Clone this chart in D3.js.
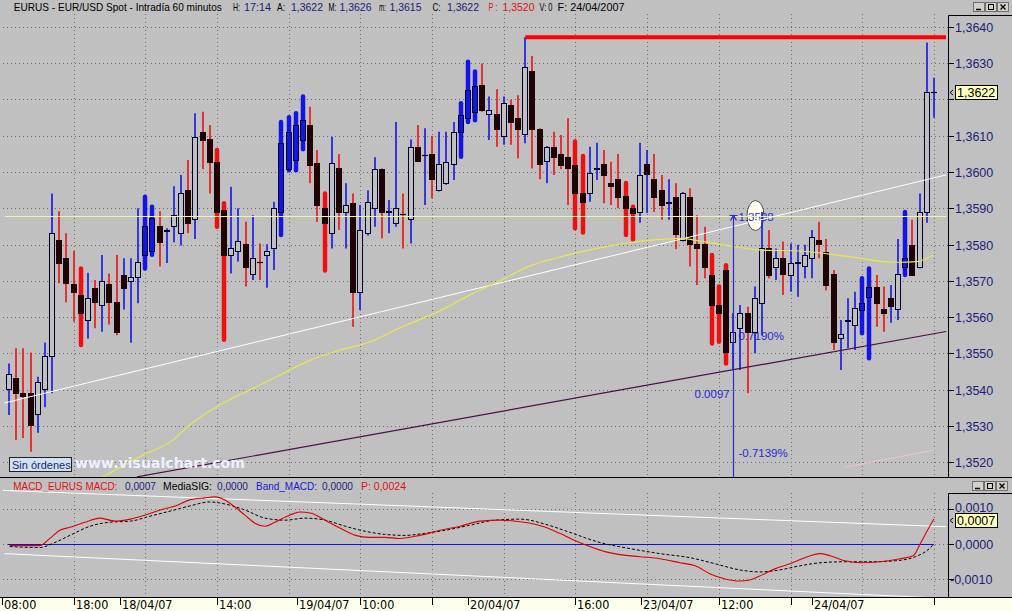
<!DOCTYPE html>
<html><head><meta charset="utf-8">
<script src="https://cdn.jsdelivr.net/npm/d3@7"></script>
<style>html,body{margin:0;padding:0;background:#c0c0c0;overflow:hidden}svg{display:block}</style>
</head><body><svg id="c" width="1012" height="611"></svg>
<script>
// ---------------- DATA ----------------
const open=[1.35401,1.35432,1.35391,1.35391,1.35332,1.35401,1.35492,1.35812,1.35762,1.35691,
1.35661,1.35592,1.35681,1.35633,1.35691,1.35641,1.35716,1.35700,1.35710,1.35771,
1.35783,1.35851,1.35838,1.35851,1.35831,1.35950,1.35870,1.36111,1.36090,1.36028,
1.35895,1.35771,1.35783,1.35801,1.35720,1.35752,1.35771,1.35789,1.35890,1.36007,
1.36033,1.36088,1.36130,1.36024,1.35902,1.35831,1.36010,1.35890,1.35914,1.35670,
1.35831,1.35900,1.36008,1.35890,1.35860,1.35883,1.35870,1.36070,1.36046,1.36050,
1.35950,1.35969,1.36021,1.36111,1.36149,1.36165,1.36240,1.36159,1.36159,1.36099,
1.36185,1.36148,1.36105,1.36279,1.36119,1.36030,1.36070,1.36050,1.36042,1.36019,
1.35941,1.35941,1.36008,1.36022,1.35969,1.35980,1.35934,1.35901,1.35890,1.36022,
1.35980,1.35950,1.35916,1.35930,1.35812,1.35930,1.35801,1.35801,1.35716,1.35633,
1.35730,1.35532,1.35570,1.35610,1.35559,1.35640,1.35789,1.35739,1.35762,1.35716,
1.35749,1.35741,1.35762,1.35812,1.35780,1.35720,1.35541,1.35590,1.35579,1.35619,
1.35656,1.35684,1.35621,1.35652,1.35621,1.35739,1.35799,1.35739,1.35890,1.36220];
const high=[1.35472,1.35514,1.35514,1.35502,1.35435,1.35530,1.35941,1.35892,1.35831,1.35782,
1.35734,1.35722,1.35702,1.35771,1.35720,1.35771,1.35762,1.35762,1.35900,1.35932,
1.35904,1.35892,1.35845,1.35961,1.35992,1.36033,1.36162,1.36166,1.36130,1.36061,
1.35914,1.35959,1.35900,1.35863,1.35881,1.35803,1.35801,1.35918,1.36138,1.36151,
1.36162,1.36208,1.36180,1.36061,1.35941,1.36097,1.36050,1.35969,1.35941,1.35909,
1.35950,1.36041,1.36010,1.35923,1.36138,1.35941,1.36090,1.36130,1.36121,1.36099,
1.36111,1.36111,1.36138,1.36190,1.36304,1.36277,1.36299,1.36208,1.36228,1.36208,
1.36199,1.36212,1.36372,1.36320,1.36121,1.36072,1.36111,1.36102,1.36148,1.36084,
1.36044,1.36070,1.36081,1.36061,1.36028,1.36050,1.35970,1.35904,1.36081,1.36061,
1.36050,1.35992,1.35980,1.35969,1.35945,1.35955,1.35881,1.35849,1.35771,1.35684,
1.35743,1.35611,1.35633,1.35628,1.35684,1.35890,1.35840,1.35789,1.35808,1.35803,
1.35799,1.35799,1.35840,1.35863,1.35815,1.35730,1.35592,1.35652,1.35670,1.35707,
1.35734,1.35716,1.35684,1.35688,1.35815,1.35890,1.35868,1.35941,1.36357,1.36260];
const low=[1.35330,1.35261,1.35266,1.35228,1.35281,1.35351,1.35390,1.35693,1.35641,1.35587,
1.35523,1.35541,1.35569,1.35559,1.35579,1.35550,1.35621,1.35529,1.35638,1.35734,
1.35772,1.35739,1.35749,1.35806,1.35797,1.35831,1.35815,1.36008,1.35941,1.35849,
1.35537,1.35720,1.35753,1.35684,1.35702,1.35702,1.35681,1.35730,1.35826,1.36005,
1.36005,1.36063,1.35969,1.35863,1.35728,1.35789,1.35840,1.35789,1.35573,1.35619,
1.35825,1.35849,1.35817,1.35831,1.35849,1.35789,1.35803,1.36028,1.35909,1.35927,
1.35946,1.35965,1.35978,1.36042,1.36138,1.36143,1.36166,1.36088,1.36070,1.36075,
1.36075,1.36038,1.36079,1.36010,1.35980,1.35969,1.35992,1.36008,1.35909,1.35845,
1.35833,1.35918,1.35978,1.35914,1.35909,1.35900,1.35826,1.35814,1.35860,1.35887,
1.35890,1.35868,1.35868,1.35787,1.35808,1.35739,1.35688,1.35707,1.35527,1.35532,
1.35472,1.35454,1.35454,1.35390,1.35500,1.35550,1.35707,1.35702,1.35661,1.35670,
1.35656,1.35707,1.35707,1.35762,1.35674,1.35509,1.35454,1.35514,1.35509,1.35555,
1.35486,1.35573,1.35559,1.35584,1.35592,1.35716,1.35720,1.35734,1.35860,1.36150];
const close=[1.35443,1.35391,1.35382,1.35302,1.35422,1.35492,1.35831,1.35750,1.35693,1.35670,
1.35610,1.35652,1.35641,1.35700,1.35641,1.35559,1.35681,1.35710,1.35751,1.35851,
1.35873,1.35806,1.35840,1.35881,1.35943,1.35860,1.36097,1.36088,1.36028,1.35890,
1.35771,1.35789,1.35810,1.35739,1.35762,1.35750,1.35782,1.35900,1.36081,1.36111,
1.36130,1.36143,1.36019,1.35909,1.35860,1.36024,1.35890,1.35909,1.35670,1.35840,
1.35918,1.36008,1.35890,1.35893,1.35900,1.35881,1.36070,1.36030,1.36044,1.35980,
1.36021,1.36028,1.36111,1.36157,1.36226,1.36237,1.36171,1.36171,1.36119,1.36190,
1.36138,1.36119,1.36289,1.36119,1.36021,1.36070,1.36041,1.36019,1.36010,1.35941,
1.35918,1.35998,1.36010,1.35992,1.35961,1.35930,1.35900,1.35887,1.35992,1.35995,
1.35930,1.35909,1.35918,1.35829,1.35941,1.35801,1.35789,1.35739,1.35633,1.35610,
1.35503,1.35559,1.35610,1.35559,1.35652,1.35789,1.35716,1.35762,1.35720,1.35750,
1.35752,1.35771,1.35820,1.35801,1.35688,1.35532,1.35553,1.35592,1.35624,1.35640,
1.35684,1.35640,1.35610,1.35630,1.35720,1.35762,1.35716,1.35890,1.36220,1.36220];
const boldBars=[10,19,20,29,30,38,39,40,41,44,63,64,65,79,80,86,87,98,99,100,119,120,125];

const priceTicks=[1.364,1.363,1.362,1.361,1.360,1.359,1.358,1.357,1.356,1.355,1.354,1.353,1.352];
const macdTicks=[0.001,0,-0.001];
const gridIdx=[-1,9,19,29,39,49,59,69,79,89,99,109,119,129];
const xTickIdx=[-1,9,15.5,29,40.2,49,59,64,79,88.1,99,109,112,129];
const xTickLabels=["08:00","18:00","18/04/07","14:00","19/04/07","10:00","","20/04/07","16:00","23/04/07","12:00","","24/04/07",""];

// moving average (idx, price)
const maPoints=[[13.1,1.35159],[18.7,1.35219],[22.9,1.35261],[25.2,1.35302],[29.4,1.35357],[33.6,1.35399],
[37.8,1.35440],[42.0,1.35481],[46.2,1.35509],[50.3,1.35531],[54.5,1.35570],[60.3,1.35619],[64.3,1.35661],
[68.7,1.35702],[72.4,1.35739],[76.2,1.35762],[82.2,1.35790],[89.6,1.35812],[93.6,1.35817],[97.1,1.35807],
[100.6,1.35796],[104.7,1.35785],[110.3,1.35782],[117.3,1.35766],[123.8,1.35751],[126.6,1.35753],[128.9,1.35771]];

const macdPoints=[[0.1,-0.00006],[4.3,-0.00006],[5.7,0.000145],[7.1,0.000377],[8.5,0.000464],[10.6,0.000609],[12.7,0.000725],
[14.8,0.000638],[16.9,0.000696],[19.0,0.000812],[21.1,0.000957],[23.2,0.001072],[25.2,0.001246],[27.3,0.001304],
[28.7,0.001333],[30.1,0.001246],[31.5,0.001043],[32.9,0.000812],[34.3,0.00058],[35.7,0.000493],[37.1,0.000609],
[39.2,0.000812],[40.6,0.000899],[42.0,0.00087],[44.1,0.000667],[46.2,0.000435],[48.3,0.000232],[50.3,0.000174],
[52.4,0.000174],[54.5,0.000145],[57.3,0.000232],[60.1,0.000377],[62.9,0.000493],[65.7,0.000638],[68.5,0.000667],
[70.6,0.000638],[72.7,0.00058],[74.8,0.000464],[76.8,0.00029],[78.9,0.000087],[81.0,-0.000087],[83.1,-0.000232],
[85.2,-0.000319],[88.0,-0.000377],[90.8,-0.000435],[93.6,-0.000551],[95.7,-0.000638],[97.8,-0.00087],[99.9,-0.001014],
[101.9,-0.001072],[103.3,-0.001043],[104.7,-0.000928],[106.8,-0.000725],[108.9,-0.00058],[111.0,-0.000406],
[113.1,-0.00029],[114.5,-0.000348],[116.6,-0.000493],[118.7,-0.000551],[121.5,-0.000522],[124.3,-0.000435],
[126.1,-0.00035],[127.1,0.0],[128.1,0.00038],[129.0,0.0007]];
const signalPoints=[[0.1,-0.000087],[4.3,-0.000116],[6.4,0.000029],[8.5,0.000232],[11.3,0.000493],[14.1,0.000609],
[16.9,0.000638],[19.7,0.000783],[22.5,0.000928],[25.2,0.001072],[28.0,0.001188],[30.1,0.00113],[32.9,0.000957],
[35.7,0.000725],[38.5,0.000667],[41.3,0.000725],[44.1,0.000667],[46.9,0.000493],[49.7,0.000348],[52.4,0.000261],
[55.2,0.000232],[58.0,0.00029],[60.8,0.000377],[64.3,0.000522],[67.8,0.000667],[71.3,0.000696],[74.8,0.000551],
[78.2,0.000319],[82.4,0.000029],[86.6,-0.000145],[90.8,-0.00029],[95.0,-0.000406],[98.5,-0.00058],[101.9,-0.000754],
[104.7,-0.000812],[107.5,-0.000754],[110.3,-0.000638],[113.1,-0.000551],[116.6,-0.000522],[120.1,-0.000522],
[123.6,-0.000493],[126.4,-0.000377],[128.5,-0.000116],[129.0,0.0]];

const supportLevel=1.3588;          // horizontal yellow line
const resistanceLevel=1.36372;      // red line
const resistanceStart=72;
const whiteTrend=[[-0.6,1.35363],[130.7,1.35992]];
const purpleTrend=[[17.85,1.35159],[130.7,1.35560]];
const pinkTrend=[[116.6,1.35186],[129.1,1.35233]];
const macdUpper=[[-1.3,0.00152],[130.7,0.00048]];
const macdLower=[[-0.6,-0.00029],[130.7,-0.00157]];
const measureIdx=101, measureTop=1.3588;
const measureTexts=["1.3588","0.7190%","0.0097","-0.7139%"];

const headerParts=[["EURUS - EUR/USD Spot - Intradía 60 minutos","k"],["H:","k"],["17:14","n"],["A:","k"],["1,3622","n"],
["M:","k"],["1,3626","n"],["m:","k"],["1,3615","n"],["C:","k"],["1,3622","n"],["P :","r"],["1,3520","r"],["V: 0","k"],["F: 24/04/2007","k"]];
const macdTitleParts=[["MACD_EURUS MACD:","r"],["0,0007","n"],["MediaSIG:","k"],["0,0000","n"],["Band_MACD:","b"],["0,0000","n"],["P: 0,0024","r"]];
const lastPrice=1.3622, lastMacd=0.0007;

// ---------------- LAYOUT ----------------
const W=1012,H=611;
const plotL=3, plotR=948, mainT=14, mainB=477, macdT=478, macdB=597;
const headerX=[13.8,233,244,277,291,328.5,339.5,379,389.5,432.5,447,488.5,502.5,539.5,557.5];
const headerW=[208,7,27,8,32,8,32,7,32,8,32,9,32,13,67];
const macdTitleX=[13.3,125,163,217,256,322,361];
const macdTitleW=[104,31,49,31,61,31,45];
const colMap={k:"#000000",n:"#1c1c78",r:"#e01010",b:"#1818d0"};

const svg=d3.select("#c");
const x=d3.scaleLinear().domain([0,129]).range([9,934]);
const y=d3.scaleLinear().domain([1.352,1.364]).range([462,27]);
const ym=d3.scaleLinear().domain([-0.001,0.001]).range([578.5,508.5]);

svg.append("rect").attr("width",W).attr("height",H).attr("fill","#c0c0c0");
const defs=svg.append("defs");
defs.append("clipPath").attr("id","cm").append("rect").attr("x",plotL).attr("y",mainT).attr("width",plotR-plotL).attr("height",mainB-mainT);
defs.append("clipPath").attr("id","cd").append("rect").attr("x",plotL).attr("y",macdT).attr("width",plotR-plotL).attr("height",macdB-macdT);

// header
const hg=svg.append("g").attr("font-family","Liberation Sans, Arial, sans-serif").attr("font-size",11);
headerParts.forEach((p,i)=>hg.append("text").attr("x",headerX[i]).attr("y",11).attr("fill",colMap[p[1]])
  .attr("textLength",headerW[i]).attr("lengthAdjust","spacingAndGlyphs").text(p[0]));

// window buttons
function buttons(x0,y0){
  ["min","max","close"].forEach((b,i)=>{
    const bx=x0+i*12;
    svg.append("rect").attr("x",bx+0.5).attr("y",y0+0.5).attr("width",11).attr("height",9).attr("fill","#d4d0c8").attr("stroke","#707070");
    if(b==="min")svg.append("line").attr("x1",bx+3).attr("x2",bx+8).attr("y1",y0+7.5).attr("y2",y0+7.5).attr("stroke","#000").attr("stroke-width",1.5);
    if(b==="max")svg.append("rect").attr("x",bx+3.5).attr("y",y0+2.5).attr("width",5).attr("height",5).attr("fill","none").attr("stroke","#000");
    if(b==="close")svg.append("path").attr("d",`M${bx+3.5},${y0+2.5}L${bx+8.5},${y0+7.5}M${bx+8.5},${y0+2.5}L${bx+3.5},${y0+7.5}`).attr("stroke","#000").attr("stroke-width",1.3);
  });
}
buttons(973,2);
buttons(972,481);

// ---------- main panel ----------
const gm=svg.append("g").attr("clip-path","url(#cm)");
const dotted={stroke:"#6e6e6e","stroke-dasharray":"1,3","stroke-width":1};
function applyAttrs(sel,o){Object.entries(o).forEach(([k,v])=>sel.attr(k,v));return sel;}
priceTicks.forEach(p=>{const yy=Math.round(y(p))+0.5;applyAttrs(gm.append("line").attr("x1",plotL).attr("x2",plotR).attr("y1",yy).attr("y2",yy),dotted);});
gridIdx.forEach(i=>{const xx=Math.round(x(i))+0.5;applyAttrs(gm.append("line").attr("x1",xx).attr("x2",xx).attr("y1",mainT).attr("y2",mainB),dotted);});

// measurement texts (behind candles)
const blueTxt="#2a2ad0";
const mx=Math.round(x(measureIdx))+0.5;
gm.append("ellipse").attr("cx",mx+22).attr("cy",y(measureTop)).attr("rx",8.5).attr("ry",15).attr("fill","#fffff0").attr("stroke","#505050");
const mt=gm.append("g").attr("font-family","Liberation Sans, Arial, sans-serif").attr("font-size",11.5).attr("fill",blueTxt);
mt.append("text").attr("x",mx+5).attr("y",y(measureTop)+5).text(measureTexts[0]);
mt.append("text").attr("x",mx+5).attr("y",340).text(measureTexts[1]);
mt.append("text").attr("x",mx-39).attr("y",398).text(measureTexts[2]);
mt.append("text").attr("x",mx+5).attr("y",457).text(measureTexts[3]);

// candles
const candles=open.map((o,i)=>({i,o,h:high[i],l:low[i],c:close[i],
  up:i===0||close[i]>=close[i-1],hollow:close[i]>open[i],bold:boldBars.includes(i)}));
const gc=gm.append("g");
candles.forEach(d=>{
  const cx=Math.round(x(d.i));
  const col=d.up?"#1414e6":"#ee1010";
  const top=Math.round(y(Math.max(d.o,d.c))), bot=Math.round(y(Math.min(d.o,d.c)));
  const hh=Math.max(1,bot-top);
  gc.append("line").attr("x1",cx).attr("x2",cx).attr("y1",y(d.h)).attr("y2",y(d.l)).attr("stroke",col)
    .attr("stroke-width",d.bold?4.5:1.6).attr("stroke-linecap",d.bold?"round":"butt");
  if(d.hollow){
    gc.append("rect").attr("x",cx-2.5).attr("y",top+0.5).attr("width",5).attr("height",hh)
      .attr("fill",d.bold?"none":"#c0c0c0").attr("stroke","#00002a").attr("stroke-width",1);
  } else if(hh<=1){
    gc.append("line").attr("x1",cx-3).attr("x2",cx+3).attr("y1",top+0.5).attr("y2",top+0.5).attr("stroke","#1a0000").attr("stroke-width",1.2);
  } else {
    gc.append("rect").attr("x",cx-2.5).attr("y",top+0.5).attr("width",5).attr("height",hh)
      .attr("fill","#1e0404").attr("stroke","#1e0404").attr("stroke-width",1);
  }
});

// overlay lines
const lineP=d3.line().x(d=>x(d[0])).y(d=>y(d[1]));
gm.append("line").attr("x1",plotL+2).attr("x2",plotR-2).attr("y1",Math.round(y(supportLevel))+0.5).attr("y2",Math.round(y(supportLevel))+0.5).attr("stroke","#f4f4a0").attr("stroke-width",1.2);
gm.append("path").attr("d",lineP(whiteTrend)).attr("stroke","#ffffff").attr("fill","none").attr("stroke-width",1);
gm.append("path").attr("d",lineP(purpleTrend)).attr("stroke","#4a1048").attr("fill","none").attr("stroke-width",1.2);
gm.append("path").attr("d",lineP(pinkTrend)).attr("stroke","#e8c8c8").attr("fill","none").attr("stroke-width",1);
gm.append("path").attr("d",d3.line().curve(d3.curveMonotoneX).x(d=>x(d[0])).y(d=>y(d[1]))(maPoints)).attr("stroke","#e6e650").attr("fill","none").attr("stroke-width",1.2);
gm.append("line").attr("x1",x(resistanceStart)).attr("x2",plotR-2).attr("y1",y(resistanceLevel)).attr("y2",y(resistanceLevel)).attr("stroke","#ff0000").attr("stroke-width",4);

// measurement line with arrow
gm.append("line").attr("x1",mx).attr("x2",mx).attr("y1",y(measureTop)).attr("y2",mainB).attr("stroke",blueTxt).attr("stroke-width",1.2);
gm.append("path").attr("d",`M${mx-4},${y(measureTop)}L${mx+4},${y(measureTop)}M${mx-3},${y(measureTop)+5}L${mx},${y(measureTop)}L${mx+3},${y(measureTop)+5}`).attr("stroke",blueTxt).attr("fill","none").attr("stroke-width",1.2);

// Sin órdenes + watermark
svg.append("rect").attr("x",9.5).attr("y",457.5).attr("width",62).attr("height",14).attr("fill","#cfe3f2").attr("stroke","#202020");
svg.append("text").attr("x",12).attr("y",468.5).attr("font-family","Liberation Sans, Arial, sans-serif").attr("font-size",11).attr("fill","#1c1c78").text("Sin órdenes");
svg.append("text").attr("x",75).attr("y",468).attr("font-family","DejaVu Sans, Verdana, sans-serif").attr("font-weight","bold").attr("font-size",14).attr("fill","#eef0ff").attr("textLength",170).attr("lengthAdjust","spacingAndGlyphs").text("www.visualchart.com");

// right price axis
svg.append("path").attr("d",`M${plotR+0.5},${mainB}V15.5H${W}`).attr("stroke","#000").attr("fill","none");
const axTxt="#1c1c78";
function valueBoxCovers(v,last,scale){return Math.abs(scale(v)-scale(last))<9;}
priceTicks.forEach(p=>{
  const yy=Math.round(y(p))+0.5;
  svg.append("line").attr("x1",plotR).attr("x2",plotR+6).attr("y1",yy).attr("y2",yy).attr("stroke","#000");
  if(!valueBoxCovers(p,lastPrice,y))
    svg.append("text").attr("x",955).attr("y",yy+4.5).attr("font-family","Liberation Sans, Arial, sans-serif").attr("font-size",12.5).attr("fill",axTxt).text(d3.format(".4f")(p).replace(".",","));
});
function valueBox(yy,txt){
  svg.append("rect").attr("x",955.5).attr("y",Math.round(yy)-6.5).attr("width",42).attr("height",14).attr("fill","#ffffc0").attr("stroke","#000");
  svg.append("text").attr("x",957).attr("y",Math.round(yy)+5).attr("font-family","Liberation Sans, Arial, sans-serif").attr("font-size",12.5).attr("fill","#000").text(txt);
  svg.append("path").attr("d",`M${953},${Math.round(yy)-2}L${950},${Math.round(yy)+0.5}L${953},${Math.round(yy)+3}`).attr("stroke","#000").attr("fill","none");
}
valueBox(y(lastPrice),d3.format(".4f")(lastPrice).replace(".",","));

// separator
svg.append("line").attr("x1",0).attr("x2",W).attr("y1",mainB+0.5).attr("y2",mainB+0.5).attr("stroke","#000");

// ---------- MACD panel ----------
const mg=svg.append("g").attr("font-family","Liberation Sans, Arial, sans-serif").attr("font-size",11);
macdTitleParts.forEach((p,i)=>mg.append("text").attr("x",macdTitleX[i]).attr("y",489.5).attr("fill",colMap[p[1]])
  .attr("textLength",macdTitleW[i]).attr("lengthAdjust","spacingAndGlyphs").text(p[0]));

const gd=svg.append("g").attr("clip-path","url(#cd)");
macdTicks.forEach(v=>{const yy=Math.round(ym(v))+0.5;applyAttrs(gd.append("line").attr("x1",plotL).attr("x2",plotR).attr("y1",yy).attr("y2",yy),dotted);});
gridIdx.forEach(i=>{const xx=Math.round(x(i))+0.5;applyAttrs(gd.append("line").attr("x1",xx).attr("x2",xx).attr("y1",493).attr("y2",macdB),dotted);});
const lineM=d3.line().x(d=>x(d[0])).y(d=>ym(d[1]));
gd.append("path").attr("d",lineM(macdUpper)).attr("stroke","#fff").attr("fill","none");
gd.append("path").attr("d",lineM(macdLower)).attr("stroke","#fff").attr("fill","none");
gd.append("line").attr("x1",x(0)-1).attr("x2",x(129)).attr("y1",Math.round(ym(0))+0.5).attr("y2",Math.round(ym(0))+0.5).attr("stroke","#1010d8").attr("stroke-width",1.2);
const curveM=d3.line().curve(d3.curveMonotoneX).x(d=>x(d[0])).y(d=>ym(d[1]));
gd.append("path").attr("d",curveM(signalPoints)).attr("stroke","#000").attr("fill","none").attr("stroke-dasharray","3,2");
gd.append("path").attr("d",curveM(macdPoints)).attr("stroke","#e00000").attr("fill","none").attr("stroke-width",1.1);

svg.append("path").attr("d",`M${plotR+0.5},${macdB}V493.5H${W}`).attr("stroke","#000").attr("fill","none");
macdTicks.forEach(v=>{
  const yy=Math.round(ym(v))+0.5;
  svg.append("line").attr("x1",plotR).attr("x2",plotR+6).attr("y1",yy).attr("y2",yy).attr("stroke","#000");
  svg.append("text").attr("x",v<0?950:955).attr("y",v>0?yy+2.5:yy+4.5).attr("font-family","Liberation Sans, Arial, sans-serif").attr("font-size",12.5).attr("fill",axTxt).text(d3.format(".4f")(v).replace("−","-").replace(".",","));
});
valueBox(ym(lastMacd)+1,d3.format(".4f")(lastMacd).replace(".",","));

// ---------- x axis ----------
svg.append("rect").attr("x",0).attr("y",macdB).attr("width",W).attr("height",H-macdB).attr("fill","#fefeec");
svg.append("line").attr("x1",0).attr("x2",W).attr("y1",macdB+0.5).attr("y2",macdB+0.5).attr("stroke","#000");
xTickIdx.forEach((t,k)=>{
  const xx=Math.round(x(t))+0.5;
  svg.append("line").attr("x1",xx).attr("x2",xx).attr("y1",macdB).attr("y2",macdB+8).attr("stroke","#000");
  if(xTickLabels[k]) svg.append("text").attr("x",xx+1.5).attr("y",608.5).attr("font-family","Liberation Sans Narrow, DejaVu Sans Condensed, Arial Narrow, sans-serif").attr("font-stretch","condensed").attr("font-size",12.5).attr("fill","#000").text(xTickLabels[k]);
});
</script></body></html>
